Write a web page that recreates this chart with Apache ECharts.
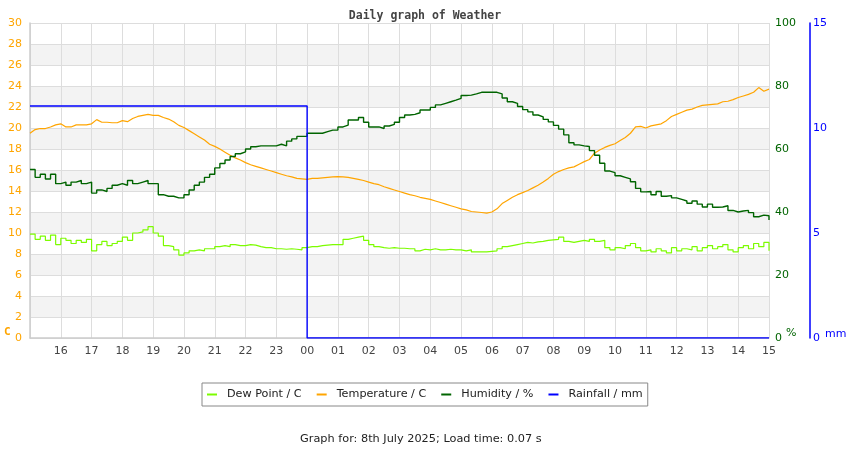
<!DOCTYPE html>
<html>
<head>
<meta charset="utf-8">
<script src="https://cdn.jsdelivr.net/npm/echarts@6/dist/echarts.min.js"></script>
<style>
html,body{margin:0;padding:0;background:#fff;}
#c{width:850px;height:450px;}
</style>
</head>
<body>
<div id="c"></div>
<script>
// time axis: hours since midnight of day 1, 10-minute readings from 15:00 to 15:00 next day
const startHour = 15;
const stepMinutes = 10;

const dewPoint = [
  9.9,9.4,9.7,9.3,9.8,8.9,9.5,9.3,9.0,9.3,9.1,9.4,
  8.3,8.9,9.2,8.8,9.0,9.2,9.6,9.3,10.0,10.1,10.3,10.6,
  10.0,9.7,8.8,8.7,8.4,7.9,8.1,8.3,8.4,8.3,8.5,8.5,
  8.7,8.8,8.7,8.9,8.8,8.8,8.9,8.85,8.7,8.6,8.6,8.5,
  8.5,8.45,8.5,8.45,8.4,8.6,8.7,8.7,8.8,8.85,8.9,8.9,
  8.9,9.4,9.5,9.6,9.7,9.3,8.9,8.7,8.6,8.55,8.6,8.55,
  8.55,8.5,8.5,8.3,8.45,8.4,8.5,8.4,8.4,8.45,8.4,8.4,
  8.3,8.4,8.2,8.2,8.2,8.25,8.3,8.5,8.7,8.8,8.9,9.0,
  9.1,9.05,9.15,9.2,9.3,9.35,9.4,9.6,9.2,9.1,9.2,9.3,
  9.2,9.4,9.2,9.3,8.6,8.4,8.6,8.5,8.8,9.0,8.6,8.3,
  8.4,8.2,8.5,8.3,8.1,8.6,8.3,8.5,8.4,8.7,8.3,8.6,
  8.8,8.5,8.7,8.9,8.4,8.2,8.6,8.8,8.5,9.0,8.7,9.1,
  8.3
];

const temperature = [
  19.5,19.85,19.95,19.95,20.1,20.3,20.4,20.1,20.1,20.3,20.3,20.3,
  20.4,20.8,20.55,20.55,20.5,20.5,20.7,20.6,20.9,21.1,21.2,21.3,
  21.2,21.2,21.0,20.85,20.6,20.25,20.05,19.75,19.45,19.15,18.85,18.45,
  18.25,18.0,17.7,17.4,17.15,16.95,16.7,16.5,16.35,16.2,16.05,15.9,
  15.75,15.6,15.45,15.35,15.2,15.15,15.1,15.2,15.2,15.25,15.3,15.35,
  15.37,15.35,15.3,15.2,15.1,15.0,14.85,14.7,14.6,14.4,14.25,14.1,
  13.95,13.8,13.65,13.55,13.4,13.3,13.2,13.05,12.9,12.75,12.6,12.45,
  12.3,12.2,12.05,12.0,11.95,11.9,12.0,12.3,12.8,13.1,13.4,13.65,
  13.85,14.05,14.3,14.55,14.85,15.2,15.6,15.85,16.05,16.2,16.3,16.55,
  16.8,17.0,17.6,17.9,18.15,18.35,18.5,18.8,19.1,19.5,20.1,20.15,
  20.0,20.2,20.3,20.4,20.7,21.1,21.3,21.5,21.7,21.8,22.0,22.15,
  22.2,22.25,22.3,22.5,22.55,22.7,22.9,23.05,23.2,23.4,23.85,23.5,
  23.7
];

const humidity = [
  53.5,51,52,50.5,52,49,49.5,48.5,49.5,50,49,49.5,
  46,47,46.5,47.5,48.5,49,48.5,50,49,49.5,50,49,
  49,45.5,45,45,44.5,44.5,45.5,47,48.5,49.5,51,52,
  54,55.4,56.5,57.6,58.5,59.1,60,60.7,61,61,61,61,
  61.5,61,62.5,63.2,64,64,65,65,65,65.5,66,66,
  67,67.6,69.2,69.2,70,68.5,67,67,66.5,67.3,67.8,68.5,
  70,70.8,71,71.5,72.4,72.4,73.2,74,74.5,75,75.5,76.1,
  77,77.1,77.5,78,78,78,78,77.5,76.2,75,74.5,73.5,
  72.5,71.8,70.8,70.2,69.4,68.6,67.5,66.3,64.5,62,61.3,61,
  60.8,59.5,58,55.5,53,52.5,51.5,51,50.5,49.6,47.5,46.4,
  46.5,45.5,46.5,45,45.2,44.5,44,43.5,42.8,43.5,42.5,41.6,
  42.5,41.5,41.6,42,40.5,40,40.3,40.5,39.8,38.5,39,38.8,
  37.5
];

const rainTimes = [15, 24, 24, 39];
const rainfall = [11.05, 11.05, 0, 0];

const seriesNames = ['Dew Point / C', 'Temperature / C', 'Humidity / %', 'Rainfall / mm'];
const seriesColors = ['#7cfc00', '#ffa500', '#006400', '#0000ff'];

const pair = (vals) => vals.map((v, i) => [startHour + i * stepMinutes / 60, v]);

const FONT = 'DejaVu Sans';
const chart = echarts.init(document.getElementById('c'), null, {renderer: 'canvas'});
chart.setOption({
  animation: false,
  backgroundColor: '#fff',
  title: [
    {text: 'Daily graph of Weather', left: 'center', top: 5,
     textStyle: {fontFamily: 'DejaVu Sans Mono', fontWeight: 'bold', fontSize: 11.5, color: '#444'}},
    {text: 'Graph for: 8th July 2025; Load time: 0.07 s', left: 295, top: 429,
     textStyle: {fontFamily: FONT, fontWeight: 'normal', fontSize: 11.3, color: '#222'}}
  ],
  legend: {
    data: seriesNames,
    left: 202, top: 383,
    padding: [6, 5, 6, 5],
    borderColor: '#888', borderWidth: 1,
    itemWidth: 10, itemHeight: 2, itemGap: 15,
    icon: 'rect',
    textStyle: {fontFamily: FONT, fontSize: 11.2, color: '#222', padding: [0, 0, 0, 5]}
  },
  graphic: [
    {type: 'text', left: 4, top: 327, style: {text: 'C', fill: '#ffa500', font: 'bold 11px "DejaVu Sans Mono"'}},
    {type: 'text', left: 786, top: 328, style: {text: '%', fill: '#006400', font: '11px "DejaVu Sans"'}},
    {type: 'text', left: 825, top: 329, style: {text: 'mm', fill: '#0000ff', font: '11px "DejaVu Sans"'}}
  ],
  grid: {left: 30, top: 23, width: 739, height: 315, containLabel: false},
  xAxis: {
    type: 'value', min: 15, max: 39, interval: 1,
    axisLine: {show: true, lineStyle: {color: '#ccc', width: 1.5}},
    axisTick: {show: false},
    splitLine: {show: true, lineStyle: {color: '#ddd', width: 1}},
    axisLabel: {
      showMinLabel: false, margin: 8,
      fontFamily: FONT, fontSize: 11, color: '#444',
      formatter: (v) => String(Math.round(v) % 24).padStart(2, '0')
    }
  },
  yAxis: [
    {
      type: 'value', min: 0, max: 30, interval: 2, position: 'left',
      axisLine: {show: true, lineStyle: {color: '#ccc', width: 1.5}},
      axisTick: {show: false},
      splitLine: {show: true, lineStyle: {color: '#ddd'}},
      splitArea: {show: true, areaStyle: {color: ['#ffffff', '#f3f3f3']}},
      axisLabel: {fontFamily: FONT, fontSize: 11, color: '#ffa500', margin: 8}
    },
    {
      type: 'value', min: 0, max: 100, interval: 20, position: 'right',
      axisLine: {show: false}, axisTick: {show: false}, splitLine: {show: false},
      axisLabel: {fontFamily: FONT, fontSize: 11, color: '#006400', margin: 6}
    },
    {
      type: 'value', min: 0, max: 15, interval: 5, position: 'right', offset: 41,
      axisLine: {show: true, lineStyle: {color: '#0000ff', width: 1.5}},
      axisTick: {show: false}, splitLine: {show: false},
      axisLabel: {fontFamily: FONT, fontSize: 11, color: '#0000ff', margin: 3}
    }
  ],
  series: [
    {name: seriesNames[0], type: 'line', yAxisIndex: 0, data: pair(dewPoint),
     step: 'end', showSymbol: false, color: seriesColors[0], lineStyle: {width: 1.2}},
    {name: seriesNames[1], type: 'line', yAxisIndex: 0, data: pair(temperature),
     showSymbol: false, color: seriesColors[1], lineStyle: {width: 1.2}},
    {name: seriesNames[2], type: 'line', yAxisIndex: 1, data: pair(humidity),
     step: 'end', showSymbol: false, color: seriesColors[2], lineStyle: {width: 1.4}},
    {name: seriesNames[3], type: 'line', yAxisIndex: 2,
     data: rainTimes.map((t, i) => [t, rainfall[i]]),
     showSymbol: false, color: seriesColors[3], lineStyle: {width: 1.4}}
  ]
});
</script>
</body>
</html>
